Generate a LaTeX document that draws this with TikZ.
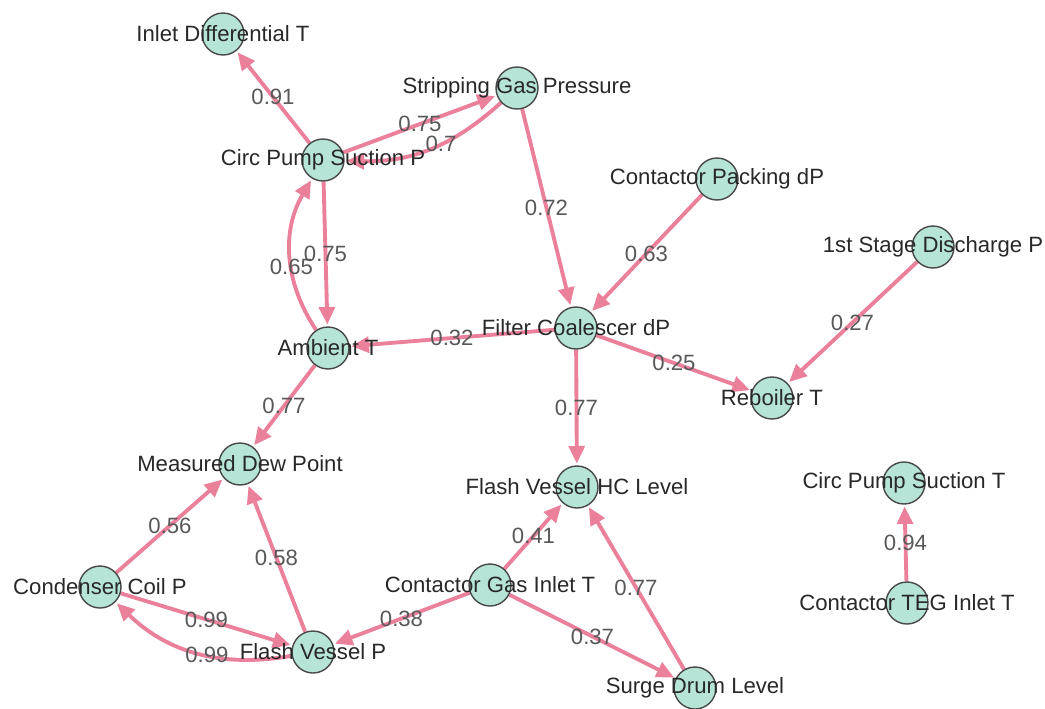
\documentclass[tikz,border=0pt]{standalone}
\usepackage{fontspec}
\setmainfont{Liberation Sans}
\definecolor{netmint}{RGB}{182,228,215}
\definecolor{netpink}{RGB}{234,128,154}
\definecolor{netink}{RGB}{40,40,40}
\definecolor{netgray}{RGB}{88,88,88}
\usetikzlibrary{arrows.meta, backgrounds}

\begin{document}
\begin{tikzpicture}[x=0.02cm, y=-0.02cm, font=\fontsize{12.6}{15}\selectfont,
  var/.style={circle, draw=netink!85, fill=netmint, line width=0.8pt, minimum size=0.84cm, inner sep=0pt},
  tag/.style={text=netink, inner sep=0pt},
  link/.style={netpink, line width=2.2pt, -{Triangle[length=10pt,width=9pt]}, shorten >=1pt},
  wt/.style={text=netgray, inner sep=0pt}]
\useasboundingbox (0,0) rectangle (1045,708);
\foreach \n/\x/\y/\txt in {idt/223/34/Inlet Differential T, sgp/517/88/Stripping Gas Pressure,
  cpsp/323/160/Circ Pump Suction P, cpd/717/179/Contactor Packing dP, fsdp/933/247/1st Stage Discharge P,
  fcd/576/328/Filter Coalescer dP, amb/328/348/Ambient T, reb/772/398/Reboiler T,
  mdp/240/464/Measured Dew Point, fvhc/577/487/Flash Vessel HC Level, cpst/904/483/Circ Pump Suction T,
  ccp/100/587/Condenser Coil P, cgit/490/585/Contactor Gas Inlet T, tegi/907/603/Contactor TEG Inlet T,
  fvp/313/652/Flash Vessel P, sdl/695/688/Surge Drum Level} {
  \node[var, label={[tag]center:\txt}] (\n) at (\x,\y) {};
}
\begin{pgfonlayer}{background}
\foreach \a/\b/\w in {cpsp/idt/0.91, cpsp/sgp/0.75, sgp/fcd/0.72, cpd/fcd/0.63, fsdp/reb/0.27,
  cpsp/amb/0.75, fcd/amb/0.32, fcd/reb/0.25, fcd/fvhc/0.77, amb/mdp/0.77, ccp/mdp/0.56,
  fvp/mdp/0.58, ccp/fvp/0.99, cgit/fvp/0.38, cgit/fvhc/0.41, cgit/sdl/0.37, sdl/fvhc/0.77,
  tegi/cpst/0.94} {
  \draw[link] (\a) -- node[wt] {\w} (\b);
}
\draw[link] (sgp) to[bend left=22] node[wt, pos=0.42] {0.7} (cpsp);
\draw[link] (amb) to[bend left=32] node[wt, pos=0.42] {0.65} (cpsp);
\draw[link] (fvp) to[bend left=27] node[wt, pos=0.44] {0.99} (ccp);
\end{pgfonlayer}
\end{tikzpicture}
\end{document}
